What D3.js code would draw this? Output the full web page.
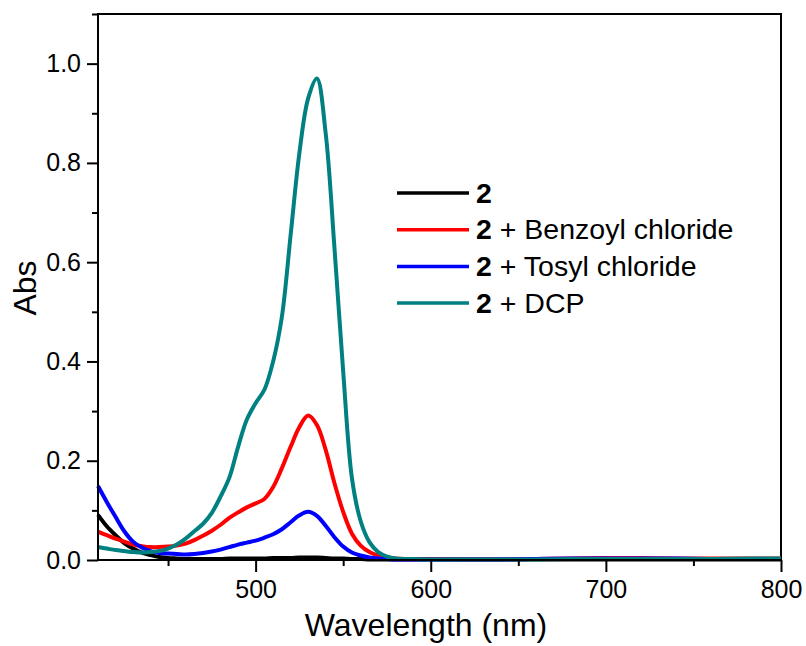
<!DOCTYPE html>
<html>
<head>
<meta charset="utf-8">
<script src="https://d3js.org/d3.v7.min.js"></script>
<style>
  body { margin: 0; background: #fff; }
  svg { font-family: Arial, "Liberation Sans", sans-serif; }
</style>
</head>
<body>
<svg id="chart" width="806" height="646"></svg>
<script>
// wavelengths (nm) shared by all spectra
var wavelengths = [410, 415, 420, 425, 430, 435, 440, 445, 450, 455, 460, 465, 470, 475, 480,
  485, 490, 495, 500, 505, 510, 515, 520, 525, 530, 535, 540, 545, 550, 555, 560, 565, 570,
  575, 580, 590, 600, 620, 640, 660, 680, 700, 720, 740, 760, 780, 800];

var absCompound = [0.091, 0.068, 0.050, 0.034, 0.023, 0.015, 0.010, 0.006, 0.004, 0.003, 0.002,
  0.002, 0.002, 0.002, 0.002, 0.003, 0.003, 0.003, 0.003, 0.003, 0.004, 0.004, 0.004, 0.005,
  0.005, 0.005, 0.004, 0.003, 0.003, 0.002, 0.002, 0.001, 0.001, 0.001, 0.001, 0.001, 0.001,
  0.001, 0.001, 0.001, 0.001, 0.001, 0.001, 0.001, 0.001, 0.001, 0.001];

var absBenzoyl = [0.057, 0.050, 0.043, 0.037, 0.031, 0.028, 0.026, 0.026, 0.027, 0.029, 0.033,
  0.040, 0.049, 0.059, 0.071, 0.085, 0.096, 0.106, 0.114, 0.123, 0.147, 0.185, 0.228, 0.268,
  0.291, 0.272, 0.222, 0.155, 0.097, 0.053, 0.029, 0.016, 0.009, 0.005, 0.003, 0.002, 0.002,
  0.001, 0.001, 0.002, 0.003, 0.004, 0.004, 0.003, 0.003, 0.003, 0.003];

var absTosyl = [0.149, 0.117, 0.087, 0.058, 0.037, 0.025, 0.018, 0.014, 0.013, 0.012, 0.011,
  0.012, 0.014, 0.017, 0.021, 0.026, 0.031, 0.035, 0.039, 0.045, 0.052, 0.062, 0.076, 0.090,
  0.097, 0.089, 0.069, 0.046, 0.027, 0.015, 0.009, 0.005, 0.003, 0.002, 0.001, 0.001, 0.001,
  0.001, 0.001, 0.002, 0.003, 0.003, 0.003, 0.003, 0.002, 0.002, 0.002];

var absDCP = [0.026, 0.023, 0.020, 0.018, 0.016, 0.015, 0.016, 0.018, 0.023, 0.031, 0.043,
  0.058, 0.073, 0.095, 0.128, 0.166, 0.228, 0.283, 0.316, 0.343, 0.400, 0.490, 0.655, 0.820,
  0.930, 0.970, 0.860, 0.630, 0.380, 0.165, 0.078, 0.036, 0.016, 0.007, 0.003, 0.002, 0.001,
  0.001, 0.001, 0.001, 0.002, 0.002, 0.002, 0.002, 0.002, 0.003, 0.003];

var seriesSuffix = ["", " + Benzoyl chloride", " + Tosyl chloride", " + DCP"];
var seriesColors = ["#000000", "#ff0000", "#0000ff", "#008080"];
var seriesValues = [absCompound, absBenzoyl, absTosyl, absDCP];

var xMajorTicks = [500, 600, 700, 800];
var xMinorTicks = [450, 550, 650, 750];
var yMajorTicks = [0, 0.2, 0.4, 0.6, 0.8, 1.0];
var yMinorTicks = [0.1, 0.3, 0.5, 0.7, 0.9, 1.1];

var svg = d3.select("#chart");
var width = +svg.attr("width"), height = +svg.attr("height");
var margin = {top: 14, right: 25, bottom: 86, left: 98};

var x = d3.scaleLinear().domain([410, 800]).range([margin.left, width - margin.right]);
var y = d3.scaleLinear().domain([0, 1.1]).range([height - margin.bottom, margin.top]);

// frame (top and right sides)
svg.append("rect")
  .attr("x", x(410)).attr("y", y(1.1))
  .attr("width", x(800) - x(410)).attr("height", y(0) - y(1.1))
  .attr("fill", "none").attr("stroke", "#000").attr("stroke-width", 2);

// spectra
var line = d3.line()
  .x(function(d) { return x(d[0]); })
  .y(function(d) { return y(d[1]); })
  .curve(d3.curveCatmullRom.alpha(0.5));

seriesValues.forEach(function(vals, i) {
  var pts = wavelengths.map(function(w, j) { return [w, vals[j]]; });
  svg.append("path")
    .datum(pts)
    .attr("d", line)
    .attr("fill", "none")
    .attr("stroke", seriesColors[i])
    .attr("stroke-width", 4)
    .attr("stroke-linejoin", "round");
});

// axes
function styleAxis(g) {
  g.select(".domain").remove();
  g.selectAll(".tick line").attr("stroke", "#000").attr("stroke-width", 2);
  g.selectAll(".tick text").attr("fill", "#000").style("font-size", "25px");
}

svg.append("g")
  .attr("transform", "translate(0," + y(0) + ")")
  .call(d3.axisBottom(x).tickValues(xMajorTicks).tickSize(12).tickPadding(8)
    .tickFormat(d3.format("d")))
  .call(styleAxis);
svg.append("g")
  .attr("transform", "translate(0," + y(0) + ")")
  .call(d3.axisBottom(x).tickValues(xMinorTicks).tickSize(6).tickFormat(""))
  .call(styleAxis);

svg.append("g")
  .attr("transform", "translate(" + x(410) + ",0)")
  .call(d3.axisLeft(y).tickValues(yMajorTicks).tickSize(11).tickPadding(6)
    .tickFormat(d3.format(".1f")))
  .call(styleAxis);
svg.append("g")
  .attr("transform", "translate(" + x(410) + ",0)")
  .call(d3.axisLeft(y).tickValues(yMinorTicks).tickSize(6).tickFormat(""))
  .call(styleAxis);

// axis lines on top
svg.append("line")
  .attr("x1", x(410)).attr("x2", x(800)).attr("y1", y(0)).attr("y2", y(0))
  .attr("stroke", "#000").attr("stroke-width", 2);
svg.append("line")
  .attr("x1", x(410)).attr("x2", x(410)).attr("y1", y(0)).attr("y2", y(1.1))
  .attr("stroke", "#000").attr("stroke-width", 2);

// axis titles
svg.append("text")
  .attr("x", 426)
  .attr("y", 636)
  .attr("text-anchor", "middle")
  .style("font-size", "32px")
  .text("Wavelength (nm)");

svg.append("text")
  .attr("transform", "translate(36," + (y(0.55) + 1) + ") rotate(-90)")
  .attr("text-anchor", "middle")
  .style("font-size", "32px")
  .text("Abs");

// legend
var legend = svg.append("g").attr("transform", "translate(397,193)");
seriesColors.forEach(function(c, i) {
  var row = legend.append("g").attr("transform", "translate(0," + (i * 36.7) + ")");
  row.append("line")
    .attr("x1", 0).attr("x2", 72).attr("y1", 0).attr("y2", 0)
    .attr("stroke", c).attr("stroke-width", 3.5);
  var t = row.append("text").attr("x", 79).attr("y", 9.5).style("font-size", "28.5px");
  t.append("tspan").style("font-weight", "bold").text("2");
  t.append("tspan").text(seriesSuffix[i]);
});
</script>
</body>
</html>
